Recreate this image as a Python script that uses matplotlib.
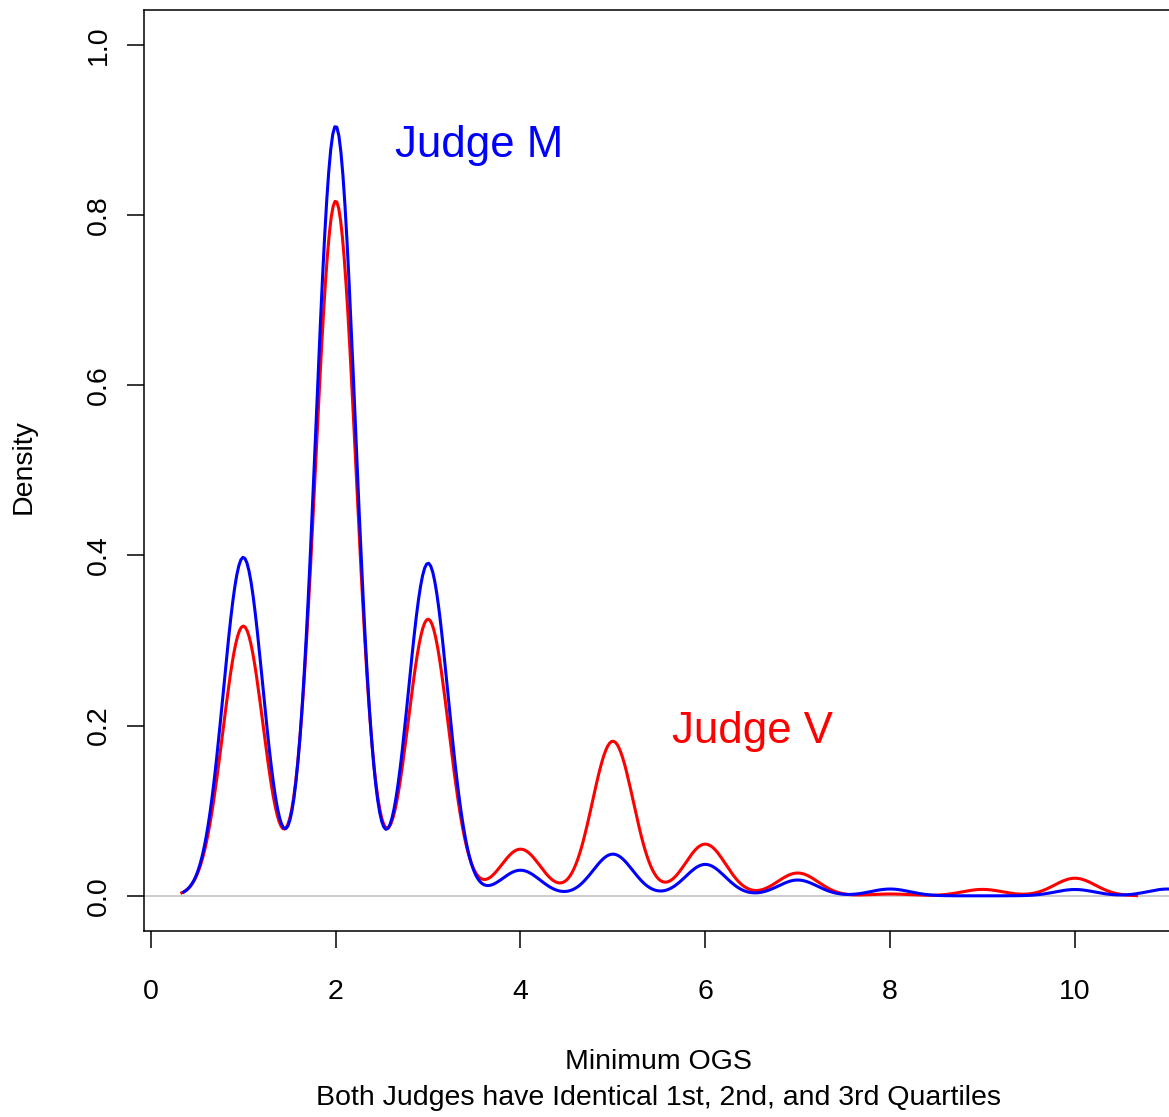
import numpy as np
import matplotlib.pyplot as plt

# ----------------------------
# Data (share of cases at each OGS grade)
# ----------------------------
GRADES = [1, 2, 3, 4, 5, 6, 7, 8, 9, 10, 11]
SHARE_M = [0.2144, 0.4876, 0.2107, 0.0162, 0.0264, 0.0199, 0.0100, 0.0043, 0.0, 0.0040, 0.0043]
SHARE_V = [0.1764, 0.4544, 0.1809, 0.0305, 0.1011, 0.0338, 0.0149, 0.0012, 0.0042, 0.0115, 0.0]
BW_M = 0.215
BW_V = 0.222

X_TICKS = [0, 2, 4, 6, 8, 10]
Y_TICKS = [0.0, 0.2, 0.4, 0.6, 0.8, 1.0]

plt.rcParams["font.family"] = ["Liberation Sans", "DejaVu Sans"]


def density(grades, share, bw, n=512):
    # gaussian kernel density, same grid rule as R's density() (cut = 3)
    g = np.asarray(grades, float)
    w = np.asarray(share, float)
    keep = w > 0
    g, w = g[keep], w[keep]
    xs = np.linspace(g.min() - 3 * bw, g.max() + 3 * bw, n)
    z = (xs[:, None] - g[None, :]) / bw
    ys = (w * np.exp(-0.5 * z ** 2)).sum(axis=1) / (bw * np.sqrt(2 * np.pi))
    return xs, ys


W, H = 1169, 1117
fig = plt.figure(figsize=(W / 100, H / 100), dpi=100)
ax = fig.add_axes([143.5 / W, 186.3 / H, 1031.2 / W, 920.7 / H])

ax.axhline(0, color="#BEBEBE", lw=1.1, zorder=1)

xv, yv = density(GRADES, SHARE_V, BW_V)
xm, ym = density(GRADES, SHARE_M, BW_M)
ax.plot(xv, yv, color="red", lw=2.2, zorder=2)
ax.plot(xm, ym, color="blue", lw=2.2, zorder=3)

ax.text(3.55, 0.868, "Judge M", color="blue", fontsize=31.5, ha="center", va="baseline")
ax.text(6.513, 0.1797, "Judge V", color="red", fontsize=31.5, ha="center", va="baseline")

ax.set_xlim(-0.08, 11.08)
ax.set_ylim(-0.041, 1.041)
ax.set_xticks(X_TICKS)
ax.set_yticks(Y_TICKS)
ax.set_xticklabels([str(t) for t in X_TICKS])
ax.set_yticklabels([f"{t:.1f}" for t in Y_TICKS])

for s in ax.spines.values():
    s.set_linewidth(1.1)
    s.set_color("black")

ax.tick_params(direction="out", length=12, width=1.1, labelsize=20.5, color="black")
ax.tick_params(axis="x", pad=23)
ax.tick_params(axis="y", pad=11)
plt.setp(ax.get_yticklabels(), rotation=90, va="center")

fig.text(24 / W, 1 - 467 / H, "Density", rotation=90, ha="center", va="center", fontsize=20.5)
fig.text(658.5 / W, 1 - 1069 / H, "Minimum OGS", ha="center", va="baseline", fontsize=20.5)
fig.text(658.5 / W, 1 - 1105 / H, "Both Judges have Identical 1st, 2nd, and 3rd Quartiles",
         ha="center", va="baseline", fontsize=20.5)

fig.savefig("out.png", dpi=100)
